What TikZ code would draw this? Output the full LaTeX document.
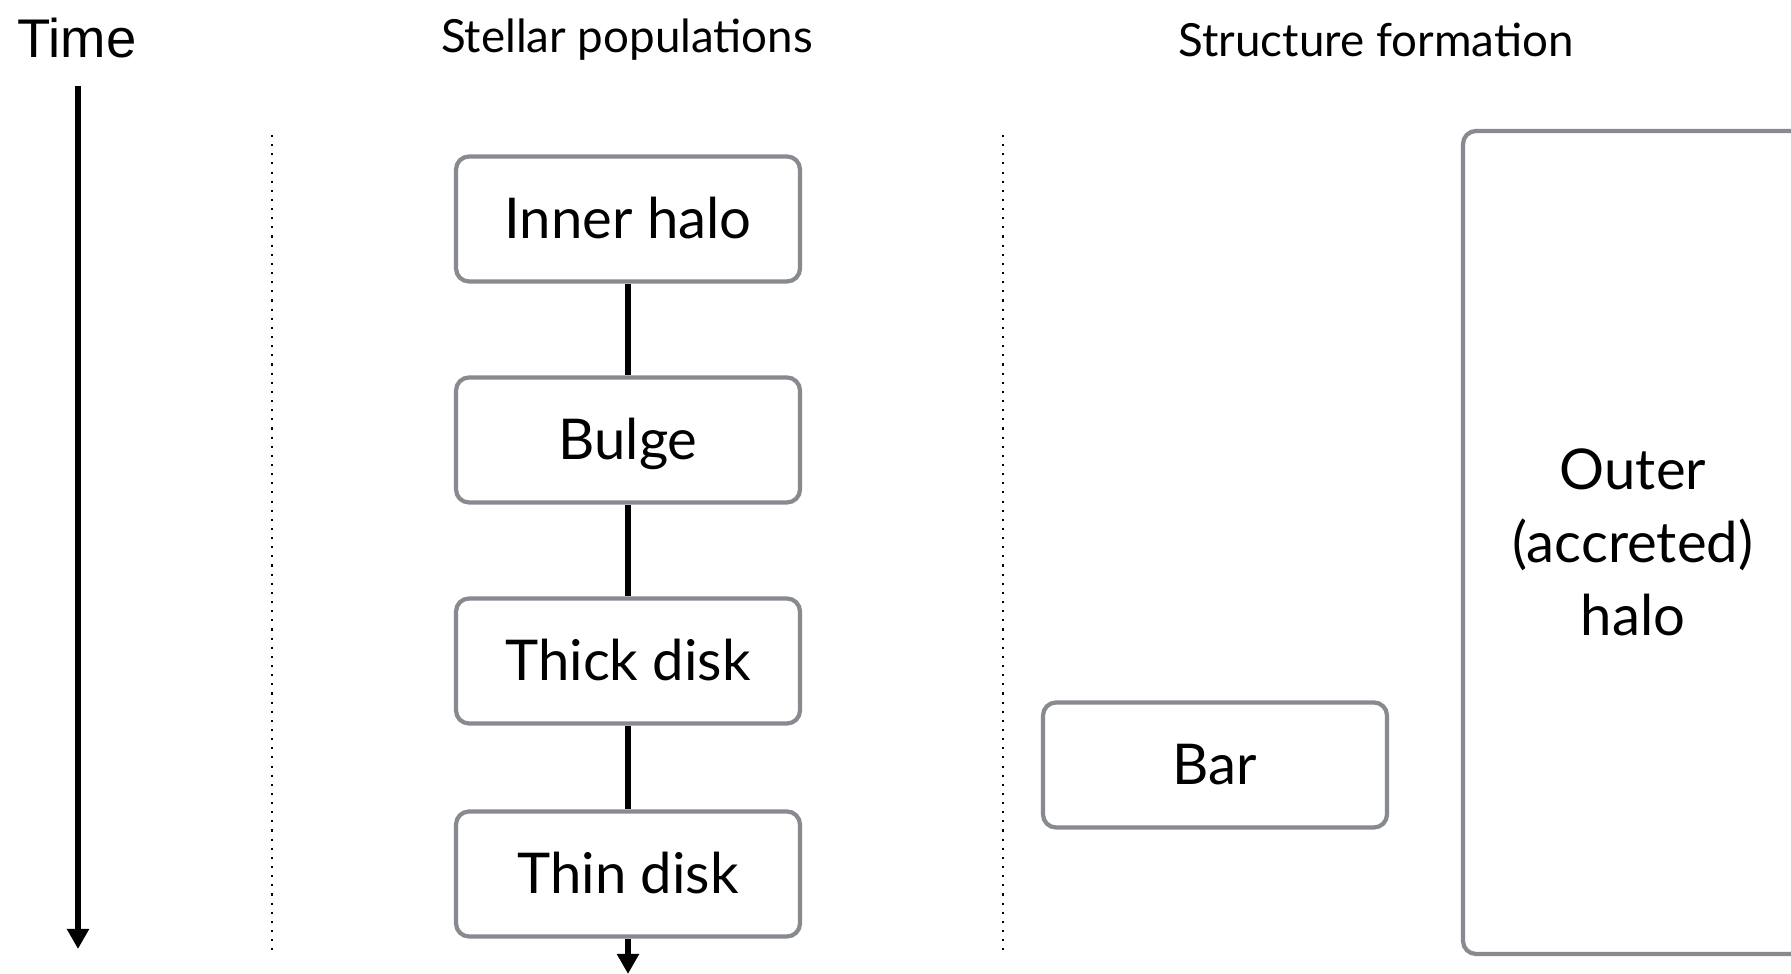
\documentclass[tikz,border=0pt]{standalone}
\usepackage{fontspec}
\setmainfont{Lato}
\newfontfamily\timefont{Liberation Sans}
\usepackage{xcolor}
\usepackage{tikz}
\usetikzlibrary{shapes,arrows,arrows.meta}
\definecolor{boxgray}{RGB}{135,138,143}
\tikzstyle{block} = [rectangle, draw=boxgray, fill=white, line width=1.2pt,
    minimum width=3.44cm, minimum height=1.25cm, rounded corners=0.13cm,
    text height=2.2ex, text depth=0ex, font=\fontsize{16}{19}\selectfont]
\tikzstyle{tallblock} = [rectangle, draw=boxgray, fill=white, line width=1.2pt,
    minimum width=3.40cm, minimum height=8.23cm, rounded corners=0.13cm,
    text width=3cm, align=center, font=\fontsize{16}{20.7}\selectfont]
\tikzstyle{header} = [font=\fontsize{13}{15}\selectfont]
\tikzstyle{arrow} = [draw, -{Triangle[length=0.2cm, width=0.21cm]}, line width=1.6pt]
\tikzstyle{line} = [draw, line width=1.6pt]
\tikzstyle{divider} = [draw, dotted, line width=0.6pt]

\begin{document}
\begin{tikzpicture}[node distance = 2.21cm, auto]
			\useasboundingbox (0,0) rectangle (17.91,9.74);
			% Place nodes
			\node [font=\timefont\fontsize{15.5}{18}\selectfont] (time) at (0.77,9.36) {Time};
			\node [header] (stellar) at (6.27,9.34) {Stellar populations};
			\node [header] (structure) at (13.76,9.34) {Structure formation};
			\node [block] (innerhalo) at (6.28,7.55) {Inner halo};
			\node [block, below of=innerhalo] (bulge) {Bulge};
			\node [block, below of=bulge] (thickdisk) {Thick disk};
			\node [block, below of=thickdisk, node distance=2.13cm] (thindisk) {Thin disk};
			\node [block] (bar) at (12.15,2.09) {Bar};
			\node [tallblock] (outerhalo) at (16.33,4.315) {Outer\\(accreted)\\halo};
			\coordinate (timestart) at (0.78,8.88);
			\coordinate (timeend) at (0.78,0.25);
			\coordinate (popend) at (6.28,0.0);
			\coordinate (divatop) at (2.72,8.39);
			\coordinate (divabot) at (2.72,0.24);
			\coordinate (divbtop) at (10.03,8.39);
			\coordinate (divbbot) at (10.03,0.24);
			%
			\path [arrow] (timestart) -- (timeend);
			\path [divider] (divatop) -- (divabot);
			\path [divider] (divbtop) -- (divbbot);
			\path [line] (innerhalo) -- (bulge);
			\path [line] (bulge) -- (thickdisk);
			\path [line] (thickdisk) -- (thindisk);
			\path [arrow] (thindisk) -- (popend);
	\end{tikzpicture}
\end{document}
